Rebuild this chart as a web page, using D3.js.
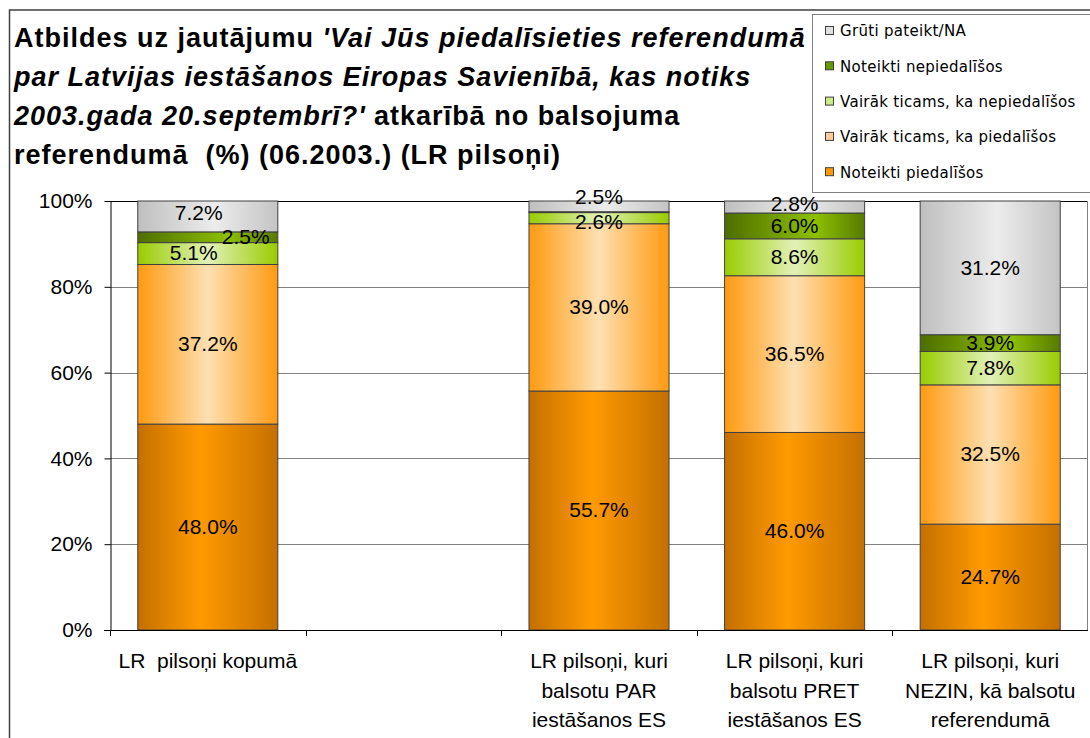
<!DOCTYPE html>
<html>
<head>
<meta charset="utf-8">
<script src="https://cdn.jsdelivr.net/npm/d3@7"></script>
<style>
  body { margin: 0; background: #fff; }
  text { font-family: "Liberation Sans", Arial, sans-serif; fill: #000; }
</style>
</head>
<body>
<div id="chart"></div>
<script>
// Categories (the empty one is the gap slot between the first and second bar)
const categories = [
    "LR  pilsoņi kopumā",
    "",
    "LR pilsoņi, kuri\nbalsotu PAR\niestāšanos ES",
    "LR pilsoņi, kuri\nbalsotu PRET\niestāšanos ES",
    "LR pilsoņi, kuri\nNEZIN, kā balsotu\nreferendumā"
];

// Series values (%), bottom to top of each stack
const noteiktiPiedalisos   = [48.0, 0, 55.7, 46.0, 24.7];
const vairakPiedalisos     = [37.2, 0, 39.0, 36.5, 32.5];
const vairakNepiedalisos   = [5.1, 0, 2.6, 8.6, 7.8];
const noteiktiNepiedalisos = [2.5, 0, 0.2, 6.0, 3.9];
const grutiPateikt         = [7.2, 0, 2.5, 2.8, 31.2];

const seriesNames = [
    "Noteikti piedalīšos",
    "Vairāk ticams, ka piedalīšos",
    "Vairāk ticams, ka nepiedalīšos",
    "Noteikti nepiedalīšos",
    "Grūti pateikt/NA"
];
const seriesValues = [noteiktiPiedalisos, vairakPiedalisos, vairakNepiedalisos, noteiktiNepiedalisos, grutiPateikt];

const yTicks = [0, 0.2, 0.4, 0.6, 0.8, 1];

// Build the table d3.stack needs
const table = categories.map((c, i) => {
    const row = {category: c};
    seriesNames.forEach((s, j) => { row[s] = seriesValues[j][i]; });
    return row;
});

// Gradient stops per series (edge, middle, edge)
const gradients = {
    "Noteikti piedalīšos": [["0%", "#c46f00"], ["45%", "#ff9a00"], ["100%", "#c46f00"]],
    "Vairāk ticams, ka piedalīšos": [["0%", "#ff9a10"], ["50%", "#fde0b2"], ["100%", "#ff9a10"]],
    "Vairāk ticams, ka nepiedalīšos": [["0%", "#99cc00"], ["50%", "#e2f1b8"], ["100%", "#99cc00"]],
    "Noteikti nepiedalīšos": [["0%", "#4e6e00"], ["65%", "#8dc000"], ["100%", "#577a00"]],
    "Grūti pateikt/NA": [["0%", "#bfbfbf"], ["55%", "#ececec"], ["100%", "#c4c4c4"]]
};
const legendColor = {
    "Noteikti piedalīšos": "#ff9900",
    "Vairāk ticams, ka piedalīšos": "#ffcc99",
    "Vairāk ticams, ka nepiedalīšos": "#ccec88",
    "Noteikti nepiedalīšos": "#669900",
    "Grūti pateikt/NA": "#e0e0e0"
};

// Small nudges Excel applied to crowded labels
const labelNudge = {
    "Grūti pateikt/NA|0": [-9, -3],
    "Noteikti nepiedalīšos|0": [38, 0],
    "Vairāk ticams, ka nepiedalīšos|0": [-14, 0],
    "Vairāk ticams, ka nepiedalīšos|2": [0, 4],
    "Grūti pateikt/NA|2": [0, -9],
    "Grūti pateikt/NA|3": [0, -3]
};

const W = 1090, H = 738;
const plot = {left: 110, right: 1088, top: 201, bottom: 630};

const svg = d3.select("#chart")
    .append("svg")
    .attr("width", W)
    .attr("height", H)
    .style("display", "block");

svg.append("rect").attr("width", W).attr("height", H).attr("fill", "#fff");

// Outer chart frame (only top and left edges are visible)
svg.append("path")
    .attr("d", `M9.5,${H} V10 H${W}`)
    .attr("fill", "none")
    .attr("stroke", "#404040")
    .attr("stroke-width", 1.5);

const defs = svg.append("defs");
seriesNames.forEach((s, i) => {
    const g = defs.append("linearGradient")
        .attr("id", "grad" + i)
        .attr("x1", "0").attr("x2", "1").attr("y1", "0").attr("y2", "0");
    gradients[s].forEach(st => {
        g.append("stop").attr("offset", st[0]).attr("stop-color", st[1]);
    });
});

// Scales
const x = d3.scaleBand()
    .domain(d3.range(categories.length))
    .range([plot.left, plot.right])
    .paddingInner(0.284)
    .paddingOuter(0.142);

const y = d3.scaleLinear()
    .domain([0, 1])
    .range([plot.bottom, plot.top]);

// Gridlines
svg.append("g")
    .selectAll("line")
    .data(yTicks.filter(t => t > 0 && t < 1))
    .enter()
    .append("line")
    .attr("x1", plot.left).attr("x2", plot.right - 1)
    .attr("y1", d => Math.round(y(d)) + 0.5).attr("y2", d => Math.round(y(d)) + 0.5)
    .attr("stroke", "#808080");

// Plot area border (top dark, right grey)
svg.append("line")
    .attr("x1", plot.left).attr("x2", plot.right)
    .attr("y1", plot.top + 0.5).attr("y2", plot.top + 0.5)
    .attr("stroke", "#000");
svg.append("line")
    .attr("x1", plot.right - 0.5).attr("x2", plot.right - 0.5)
    .attr("y1", plot.top).attr("y2", plot.bottom)
    .attr("stroke", "#808080");

// Stacked bars
const stack = d3.stack().keys(seriesNames).offset(d3.stackOffsetExpand);
const stacked = stack(table);

const layers = svg.append("g")
    .selectAll("g")
    .data(stacked)
    .enter()
    .append("g")
    .attr("fill", (d, i) => `url(#grad${i})`);

layers.selectAll("rect")
    .data(d => d.map((p, i) => ({p, i})).filter(o => o.p[1] - o.p[0] > 0))
    .enter()
    .append("rect")
    .attr("x", o => x(o.i))
    .attr("y", o => y(o.p[1]))
    .attr("width", x.bandwidth())
    .attr("height", o => y(o.p[0]) - y(o.p[1]))
    .attr("stroke", "#404040")
    .attr("stroke-width", 1);

// Data labels
const fmt = d3.format(".1f");
stacked.forEach(layer => {
    const key = layer.key;
    const vals = seriesValues[seriesNames.indexOf(key)];
    layer.forEach((p, i) => {
        const v = vals[i];
        if (!v || v < 1) return;
        const nudge = labelNudge[key + "|" + i] || [0, 0];
        svg.append("text")
            .attr("x", x(i) + x.bandwidth() / 2 + nudge[0])
            .attr("y", (y(p[0]) + y(p[1])) / 2 + nudge[1])
            .attr("dy", "0.33em")
            .attr("text-anchor", "middle")
            .style("font-size", "21px")
            .text(fmt(v) + "%");
    });
});

// Y axis
const yAxis = svg.append("g")
    .attr("transform", `translate(${plot.left + 0.5},0)`)
    .call(d3.axisLeft(y).tickValues(yTicks).tickFormat(d3.format(".0%")).tickSize(6).tickPadding(12).tickSizeOuter(0));
yAxis.selectAll("text").style("font-size", "21px").attr("font-family", null);
yAxis.selectAll("line, path").attr("stroke", "#000");

// X axis: line with ticks at band boundaries
const boundaries = d3.range(categories.length + 1).map(i => plot.left + i * x.step());
svg.append("line")
    .attr("x1", plot.left - 6).attr("x2", plot.right)
    .attr("y1", plot.bottom + 0.5).attr("y2", plot.bottom + 0.5)
    .attr("stroke", "#000");
svg.append("g")
    .selectAll("line")
    .data(boundaries.slice(0, -1))
    .enter()
    .append("line")
    .attr("x1", d => Math.round(d) + 0.5).attr("x2", d => Math.round(d) + 0.5)
    .attr("y1", plot.bottom).attr("y2", plot.bottom + 6)
    .attr("stroke", "#000");

// Category labels
categories.forEach((c, i) => {
    if (!c) return;
    const t = svg.append("text")
        .attr("text-anchor", "middle")
        .style("font-size", "21px")
        .style("white-space", "pre");
    c.split("\n").forEach((line, k) => {
        t.append("tspan")
            .attr("x", x(i) + x.bandwidth() / 2)
            .attr("y", 668 + k * 29.5)
            .text(line);
    });
});

// Title
const titleLines = [
    [["Atbildes uz jautājumu ", false], ["'Vai Jūs piedalīsieties referendumā", true]],
    [["par Latvijas iestāšanos Eiropas Savienībā, kas notiks", true]],
    [["2003.gada 20.septembrī?'", true], [" atkarībā no balsojuma", false]],
    [["referendumā  (%) (06.2003.) (LR pilsoņi)", false]]
];
const title = svg.append("text")
    .style("font-size", "27px")
    .style("font-weight", "bold")
    .style("letter-spacing", "1px")
    .style("white-space", "pre");
titleLines.forEach((parts, k) => {
    parts.forEach((part, j) => {
        const ts = title.append("tspan")
            .style("font-style", part[1] ? "italic" : "normal")
            .text(part[0]);
        if (j === 0) ts.attr("x", 14).attr("y", 47 + k * 39);
    });
});

// Legend
const legend = svg.append("g");
legend.append("rect")
    .attr("x", 812.5).attr("y", 14.5)
    .attr("width", 300).attr("height", 178)
    .attr("fill", "#fff")
    .attr("stroke", "#808080");

seriesNames.slice().reverse().forEach((s, k) => {
    const cy = 31 + k * 35.3;
    legend.append("rect")
        .attr("x", 825.5).attr("y", cy - 4.5)
        .attr("width", 8).attr("height", 8)
        .attr("fill", legendColor[s])
        .attr("stroke", "#404040");
    legend.append("text")
        .attr("x", 840)
        .attr("y", cy)
        .attr("dy", "0.36em")
        .style("font-family", "'DejaVu Sans', Verdana, sans-serif")
        .style("font-size", "15px")
        .style("letter-spacing", "0.3px")
        .text(s);
});
</script>
</body>
</html>
